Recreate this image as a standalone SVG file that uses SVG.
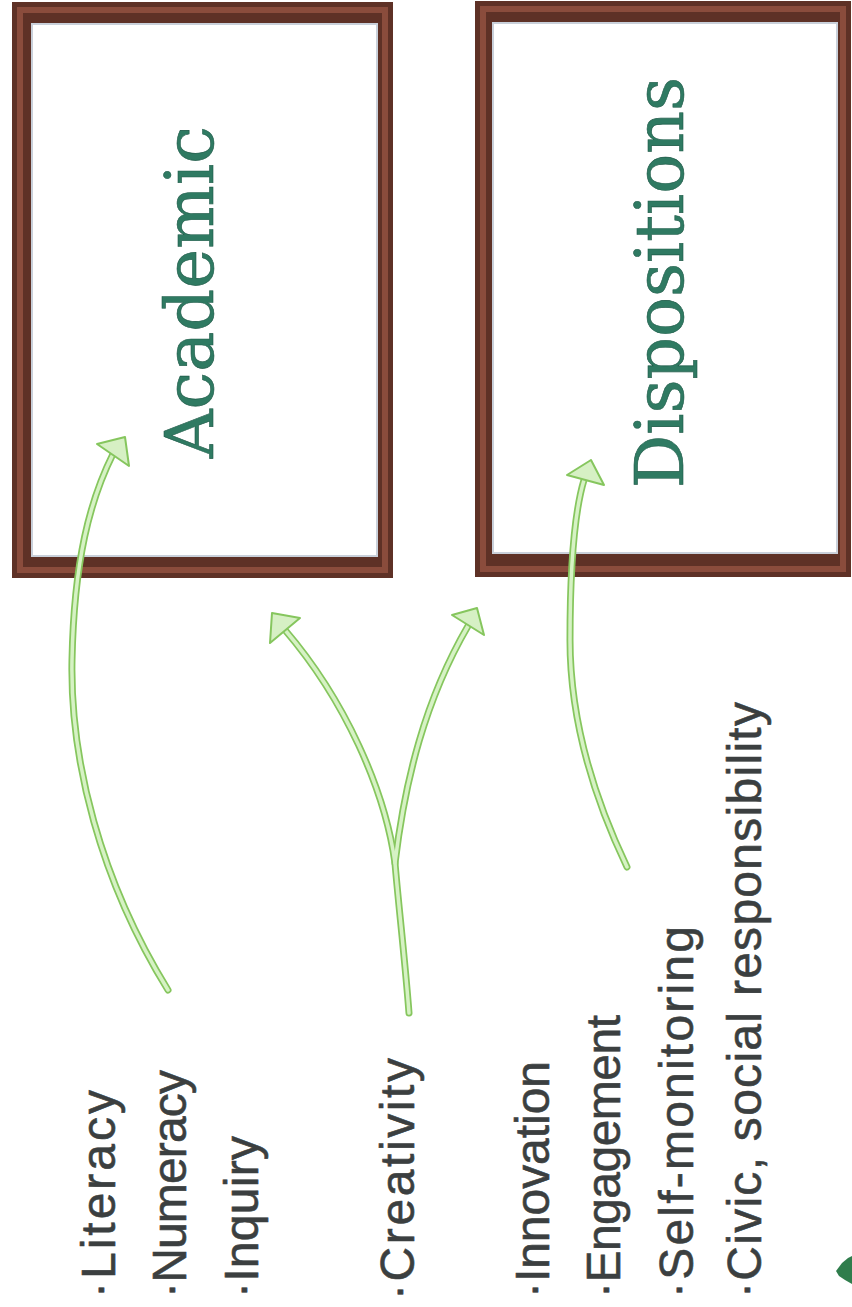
<svg xmlns="http://www.w3.org/2000/svg" width="852" height="1307" viewBox="0 0 852 1307">
  <style>
    .frame-outer { fill: #5e3126; }
    .frame-mid { fill: none; stroke: #8a4c3c; stroke-width: 6; }
    .frame-inner { fill: #ffffff; stroke: #c9d0da; stroke-width: 2; }
    .title { font-family: "DejaVu Serif", "Liberation Serif", serif; font-size: 68px; fill: #2f7a62; stroke: #1f5a48; stroke-width: 0.6; }
    .hand { font-family: "Liberation Sans", Arial, sans-serif; font-size: 48px; fill: #3b3f40; stroke: #3b3f40; stroke-width: 0.6; }
    .shaft-out { fill: none; stroke: #86c65e; stroke-width: 7; stroke-linecap: round; }
    .shaft-in { fill: none; stroke: #d6f2c4; stroke-width: 3.5; stroke-linecap: round; }
    .head { fill: #d6f0c4; stroke: #86c65e; stroke-width: 2; stroke-linejoin: round; }
  </style>

  <rect width="852" height="1307" fill="#ffffff"/>

  <g id="node-academic">
    <rect class="frame-outer" x="12" y="2" width="381" height="576"/>
    <rect class="frame-mid" x="20" y="10" width="365" height="560"/>
    <rect class="frame-inner" x="32" y="24" width="345" height="532"/>
    <text class="title" transform="translate(213,458) rotate(-90)" textLength="332" lengthAdjust="spacingAndGlyphs">Academic</text>
  </g>

  <g id="node-dispositions">
    <rect class="frame-outer" x="475" y="1" width="376" height="576"/>
    <rect class="frame-mid" x="483" y="9" width="360" height="560"/>
    <rect class="frame-inner" x="493" y="23" width="344" height="530"/>
    <text class="title" transform="translate(683,488) rotate(-90)" textLength="411" lengthAdjust="spacingAndGlyphs">Dispositions</text>
  </g>

  <g id="connectors">
    <!-- Literacy group to Academic -->
    <path class="shaft-out" d="M168,990 C100,880 70,760 72,660 C74,560 90,500 113,454"/>
    <path class="shaft-in" d="M168,990 C100,880 70,760 72,660 C74,560 90,500 113,454"/>
    <polygon class="head" points="125,437 97,444 129,466"/>

    <!-- Creativity fork -->
    <path class="shaft-out" d="M409,1013 C405,960 398,900 395,863 C385,790 345,700 285,630"/>
    <path class="shaft-out" d="M395,863 C405,780 425,700 468,626"/>
    <path class="shaft-in" d="M409,1013 C405,960 398,900 395,863 C385,790 345,700 285,630"/>
    <path class="shaft-in" d="M395,863 C405,780 425,700 468,626"/>
    <polygon class="head" points="272,613 300,618 270,643"/>
    <polygon class="head" points="477,608 452,615 484,635"/>

    <!-- Dispositions group to Dispositions -->
    <path class="shaft-out" d="M627,867 C595,800 570,720 570,640 C570,560 575,510 584,480"/>
    <path class="shaft-in" d="M627,867 C595,800 570,720 570,640 C570,560 575,510 584,480"/>
    <polygon class="head" points="591,460 567,475 604,485"/>
  </g>

  <g id="node-academic-items">
    <text class="hand" transform="translate(115,1298) rotate(-90)" textLength="208">·Literacy</text>
    <text class="hand" transform="translate(186,1298) rotate(-90)" textLength="228">·Numeracy</text>
    <text class="hand" transform="translate(258,1298) rotate(-90)" textLength="162">·Inquiry</text>
  </g>

  <g id="node-creativity">
    <text class="hand" transform="translate(414,1300) rotate(-90)" textLength="242">·Creativity</text>
  </g>

  <g id="node-disposition-items">
    <text class="hand" transform="translate(549,1298) rotate(-90)" textLength="237">·Innovation</text>
    <text class="hand" transform="translate(620,1298) rotate(-90)" textLength="283">·Engagement</text>
    <text class="hand" transform="translate(693,1298) rotate(-90)" textLength="372">·Self-monitoring</text>
    <text class="hand" transform="translate(761,1298) rotate(-90)" textLength="596">·Civic, social responsibility</text>
  </g>

  <g id="leaf">
    <polygon points="836,1271 842,1263 848,1258 852,1256 852,1284 845,1280 839,1276" fill="#2f7d4c"/>
  </g>
</svg>
